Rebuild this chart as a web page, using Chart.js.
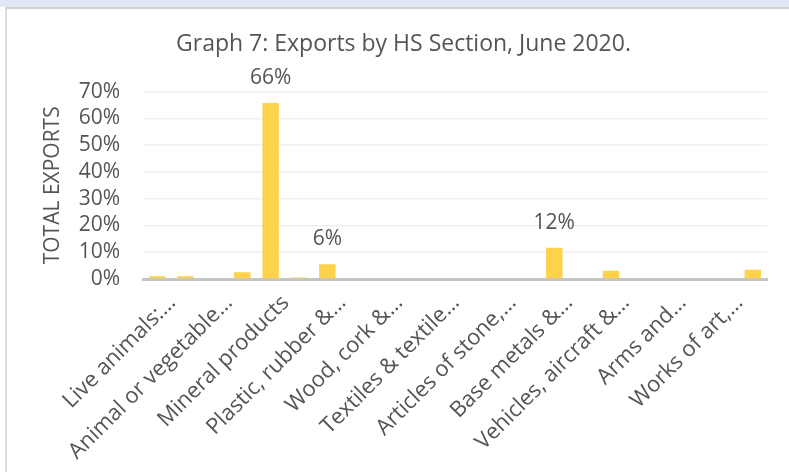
<!DOCTYPE html>
<html>
<head>
<meta charset="utf-8">
<script src="https://cdn.jsdelivr.net/npm/chart.js@4"></script>
<style>
  html, body { margin: 0; padding: 0; background: #fff; }
  body { width: 789px; height: 472px; position: relative; overflow: hidden; }
  #strip { position: absolute; left: 0; top: 0; width: 789px; height: 7px; background: #dde8f4; }
  #frame { position: absolute; left: 5px; top: 7px; right: 0; bottom: 0; border-left: 2px solid #dcdcdc; border-top: 2px solid #d2d2d2; }
  #c { position: absolute; left: 0; top: 0; }
</style>
</head>
<body>
<div id="strip"></div>
<div id="frame"></div>
<canvas id="c" width="789" height="472"></canvas>
<script>
const categories = [
  'Live animals:…', 'Vegetable products', 'Animal or vegetable…', 'Prepared foodstuffs…',
  'Mineral products', 'Products of the chemical…', 'Plastic, rubber &…', 'Raw hides and skins…',
  'Wood, cork &…', 'Pulp of wood…', 'Textiles & textile…', 'Footwear, headgear…',
  'Articles of stone,…', 'Natural or cultured pearls…', 'Base metals &…', 'Machinery and…',
  'Vehicles, aircraft &…', 'Optical, photographic…', 'Arms and…', 'Miscellaneous manufactured…',
  'Works of art,…', 'Other'
];
const shareOfExports = [1.0, 1.0, 0, 2.5, 65.7, 0.6, 5.5, 0, 0, 0, 0, 0, 0, 0, 11.7, 0.3, 3.1, 0, 0, 0, 0, 3.5];
const dataLabels = ['', '', '', '', '66%', '', '6%', '', '', '', '', '', '', '', '12%', '', '', '', '', '', '', ''];
const yTicks = [0, 10, 20, 30, 40, 50, 60, 70];

const textColor = '#555555';
const fontFamily = '"Open Sans", sans-serif';

const labelPlugin = {
  id: 'barLabels',
  afterDatasetsDraw(chart) {
    const ctx = chart.ctx;
    const meta = chart.getDatasetMeta(0);
    ctx.save();
    ctx.font = '21px ' + fontFamily;
    ctx.fillStyle = textColor;
    ctx.textAlign = 'center';
    ctx.textBaseline = 'middle';
    meta.data.forEach((bar, i) => {
      if (dataLabels[i]) ctx.fillText(dataLabels[i], bar.x, bar.y - 25);
    });
    ctx.restore();
  }
};

new Chart(document.getElementById('c'), {
  type: 'bar',
  data: {
    labels: categories,
    datasets: [{
      data: shareOfExports,
      backgroundColor: '#FFD24C',
      categoryPercentage: 1,
      barPercentage: 0.58
    }]
  },
  options: {
    responsive: false,
    animation: false,
    layout: { padding: { left: 40, right: 22, top: 0, bottom: 0 } },
    plugins: {
      legend: { display: false },
      tooltip: { enabled: false },
      title: {
        display: true,
        text: 'Graph 7: Exports by HS Section, June 2020.',
        color: textColor,
        font: { family: fontFamily, size: 23, weight: 'normal', lineHeight: 1.2 },
        padding: { top: 31, bottom: 33 }
      }
    },
    scales: {
      x: {
        grid: { display: false, drawTicks: false },
        border: { display: true, color: '#c4c4c4', width: 3 },
        afterFit(s) { s.height = 193; },
        ticks: {
          autoSkip: false,
          maxRotation: 45,
          minRotation: 45,
          padding: 11,
          labelOffset: 15,
          color: textColor,
          font: { family: fontFamily, size: 22 },
          callback(v, i) { return i % 2 === 0 ? categories[i] : ''; }
        }
      },
      y: {
        min: 0,
        max: 70,
        afterFit(s) { s.width = 103; },
        afterBuildTicks(s) { s.ticks = yTicks.map(v => ({ value: v })); },
        grid: { color: '#efefef', lineWidth: 1.5, drawTicks: false },
        border: { display: false },
        title: {
          display: true,
          text: 'TOTAL EXPORTS',
          color: textColor,
          font: { family: fontFamily, size: 21 },
          padding: 0
        },
        ticks: {
          autoSkip: false,
          padding: 23,
          color: textColor,
          font: { family: fontFamily, size: 21 },
          callback(v) { return v + '%'; }
        }
      }
    }
  },
  plugins: [labelPlugin]
});
</script>
</body>
</html>
